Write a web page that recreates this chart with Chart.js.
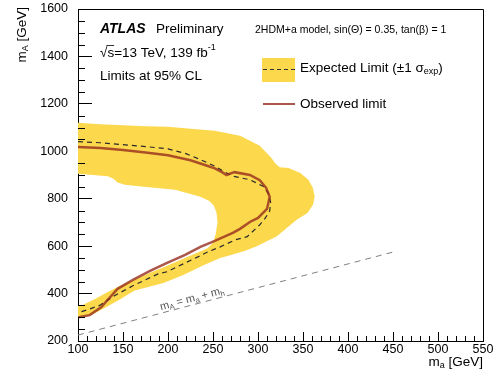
<!DOCTYPE html>
<html>
<head>
<meta charset="utf-8">
<script src="https://cdn.jsdelivr.net/npm/chart.js@4.4.0/dist/chart.umd.min.js"></script>
<style>
  html, body { margin: 0; padding: 0; background: #fff; }
  #wrap { width: 497px; height: 374px; }
</style>
</head>
<body>
<div id="wrap"><canvas id="limitChart" width="497" height="374"></canvas></div>
<script>
// axis ticks (GeV)
const xTickLabels = [100, 150, 200, 250, 300, 350, 400, 450, 500, 550];
const yTickLabels = [200, 400, 600, 800, 1000, 1200, 1400, 1600];

// +-1 sigma band, outer edge (top arm -> tip -> lower arm)
const bandOuterMa = [100, 125, 150, 175, 200, 225, 252, 280, 302, 315, 319, 324, 334, 347, 356, 361, 363, 361, 355, 343, 321, 298, 285, 272, 258, 240, 217, 195, 180, 163, 145, 130, 115, 100];
const bandOuterMA = [1120, 1114, 1110, 1106, 1103, 1095, 1087, 1066, 1023, 972, 950, 933, 929, 908, 880, 845, 808, 774, 740, 711, 642, 598, 580, 565, 550, 520, 478, 445, 430, 413, 372, 340, 310, 297];
// inner edge (lower arm -> inner tip -> top arm)
const bandInnerMa = [100, 105, 119, 133, 144, 169, 197, 222, 244, 250, 253, 255, 254, 251, 246, 236, 208, 170, 152, 144, 139, 133, 100];
const bandInnerMA = [348, 352, 377, 407, 428, 470, 514, 555, 591, 614, 650, 700, 740, 770, 790, 808, 838, 852, 859, 868, 885, 895, 905];

// expected limit
const expMa = [100, 125, 150, 175, 200, 220, 236, 252, 262, 272, 291, 306, 312, 314, 313, 308, 302, 288, 275, 258, 245, 235, 219, 199, 189, 161, 142, 124, 113, 104, 100];
const expMA = [1041, 1036, 1028, 1020, 1010, 990, 965, 937, 915, 895, 880, 852, 820, 785, 748, 718, 690, 640, 627, 597, 577, 558, 529, 492, 483, 433, 394, 350, 335, 324, 321];

// observed limit
const obsMa = [100, 125, 150, 175, 200, 225, 241, 252, 260, 265, 269, 274, 291, 302, 309, 313, 310, 300, 291, 280, 272, 252, 236, 219, 199, 180, 161, 144, 137, 133, 126, 113, 102, 100];
const obsMA = [1018, 1014, 1005, 995, 983, 962, 942, 928, 912, 900, 906, 912, 900, 878, 846, 808, 757, 719, 702, 673, 656, 622, 597, 563, 529, 496, 458, 420, 390, 374, 343, 309, 301, 300];

// kinematic line m_A = m_a + m_h
const diagMa = [100, 450];
const diagMA = [225, 575];

const font = "'Liberation Sans', Arial, sans-serif";
const bandColor = '#fcd84c';
const obsColor = 'rgba(150,45,30,0.8)';

const zip = (xs, ys) => xs.map((v, i) => ({x: v, y: ys[i]}));

const bandPoints = zip(bandOuterMa, bandOuterMA).concat(zip(bandInnerMa, bandInnerMA));

// text made of pieces: [text, size, dy, style]
function drawPieces(ctx, pieces, x, y, color) {
  ctx.fillStyle = color;
  ctx.textBaseline = 'middle';
  ctx.textAlign = 'left';
  let cx = x;
  pieces.forEach(p => {
    ctx.font = (p[3] || '') + ' ' + p[1] + 'px ' + font;
    ctx.fillText(p[0], cx, y + p[2]);
    cx += ctx.measureText(p[0]).width;
  });
  return cx - x;
}
function piecesWidth(ctx, pieces) {
  let w = 0;
  pieces.forEach(p => {
    ctx.font = (p[3] || '') + ' ' + p[1] + 'px ' + font;
    w += ctx.measureText(p[0]).width;
  });
  return w;
}

const decor = {
  id: 'decor',
  afterDraw(chart) {
    const {ctx, chartArea: a, scales: {x, y}} = chart;
    ctx.save();

    // minor ticks, inside
    ctx.strokeStyle = '#000';
    ctx.lineWidth = 1;
    ctx.beginPath();
    for (let v = 110; v < 550; v += 10) {
      if (v % 50 === 0) continue;
      const px = Math.round(x.getPixelForValue(v)) + 0.5;
      ctx.moveTo(px, a.bottom);
      ctx.lineTo(px, a.bottom - 5);
    }
    for (let v = 250; v < 1600; v += 50) {
      if (v % 200 === 0) continue;
      const py = Math.round(y.getPixelForValue(v)) + 0.5;
      ctx.moveTo(a.left, py);
      ctx.lineTo(a.left + 7, py);
    }
    ctx.stroke();

    // frame top + right
    ctx.beginPath();
    ctx.moveTo(a.left, Math.round(a.top) + 0.5);
    ctx.lineTo(Math.round(a.right) + 0.5, Math.round(a.top) + 0.5);
    ctx.lineTo(Math.round(a.right) + 0.5, a.bottom);
    ctx.stroke();

    // ATLAS label block
    ctx.fillStyle = '#000';
    ctx.textBaseline = 'middle';
    ctx.font = 'italic bold 14px ' + font;
    ctx.fillText('ATLAS', 100, 29);
    ctx.font = '13.5px ' + font;
    ctx.fillText('Preliminary', 156, 29);

    drawPieces(ctx, [['\u221As=13 TeV, 139 fb', 13.5, 0], ['-1', 9, -5]], 100, 53, '#000');
    ctx.font = '13.5px ' + font;
    const rw = ctx.measureText('\u221A').width;
    const sw = ctx.measureText('s').width;
    ctx.beginPath();
    ctx.lineWidth = 0.8;
    ctx.moveTo(100 + rw - 1, 45.5);
    ctx.lineTo(100 + rw + sw, 45.5);
    ctx.stroke();

    ctx.font = '13.5px ' + font;
    ctx.fillText('Limits at 95% CL', 100, 76.5);

    ctx.font = '10.5px ' + font;
    ctx.fillText('2HDM+a model, sin(\u0398) = 0.35, tan(\u03B2) = 1', 255, 30);

    // legend
    ctx.fillStyle = bandColor;
    ctx.fillRect(262, 58, 33, 24);
    ctx.strokeStyle = '#333';
    ctx.lineWidth = 1.2;
    ctx.setLineDash([4, 3]);
    ctx.beginPath();
    ctx.moveTo(263, 69.5);
    ctx.lineTo(295, 69.5);
    ctx.stroke();
    ctx.setLineDash([]);
    drawPieces(ctx, [['Expected Limit (\u00B11 \u03C3', 13.5, 0], ['exp', 9, 4], [')', 13.5, 0]], 300, 68, '#000');

    ctx.strokeStyle = obsColor;
    ctx.lineWidth = 2;
    ctx.beginPath();
    ctx.moveTo(263, 104);
    ctx.lineTo(295, 104);
    ctx.stroke();
    drawPieces(ctx, [['Observed limit', 13.5, 0]], 300, 104, '#000');

    // axis titles
    const xt = [['m', 13.5, 0], ['a', 9, 4], [' [GeV]', 13.5, 0]];
    drawPieces(ctx, xt, a.right - piecesWidth(ctx, xt), 362, '#000');

    const yt = [['m', 13.5, 0], ['A', 9, 4], [' [GeV]', 13.5, 0]];
    const yw = piecesWidth(ctx, yt);
    ctx.save();
    ctx.translate(22, 7 + yw);
    ctx.rotate(-Math.PI / 2);
    drawPieces(ctx, yt, 0, 0, '#000');
    ctx.restore();

    // label along the kinematic line
    const x0 = x.getPixelForValue(diagMa[0]), y0 = y.getPixelForValue(diagMA[0]);
    const x1 = x.getPixelForValue(diagMa[1]), y1 = y.getPixelForValue(diagMA[1]);
    const ang = Math.atan2(y1 - y0, x1 - x0);
    const lx = x.getPixelForValue(193), ly = y.getPixelForValue(193 + 125);
    ctx.save();
    ctx.translate(lx, ly);
    ctx.rotate(ang);
    drawPieces(ctx, [['m', 11, -6], ['A', 7.5, -3], [' = m', 11, -6], ['a', 7.5, -3], [' + m', 11, -6], ['h', 7.5, -3]], 0, 0, '#555');
    ctx.restore();

    ctx.restore();
  }
};

new Chart(document.getElementById('limitChart'), {
  type: 'scatter',
  data: {
    datasets: [
      {
        label: 'Observed limit',
        data: zip(obsMa, obsMA),
        showLine: true,
        borderColor: obsColor,
        borderWidth: 2.5,
        pointRadius: 0,
        fill: false
      },
      {
        label: 'Expected Limit',
        data: zip(expMa, expMA),
        showLine: true,
        borderColor: '#2a2a2a',
        borderWidth: 1.2,
        borderDash: [5, 4],
        pointRadius: 0,
        fill: false
      },
      {
        label: 'mA = ma + mh',
        data: zip(diagMa, diagMA),
        showLine: true,
        borderColor: '#808080',
        borderWidth: 1,
        borderDash: [6, 5],
        pointRadius: 0,
        fill: false
      },
      {
        label: '+-1 sigma',
        data: bandPoints,
        showLine: true,
        borderColor: 'transparent',
        borderWidth: 0,
        backgroundColor: bandColor,
        pointRadius: 0,
        fill: 'shape'
      }
    ]
  },
  options: {
    responsive: false,
    animation: false,
    devicePixelRatio: 1,
    layout: { padding: { top: 9, right: 14, left: 0, bottom: 0 } },
    plugins: {
      legend: { display: false },
      tooltip: { enabled: false },
      title: { display: false }
    },
    scales: {
      x: {
        type: 'linear',
        min: 100,
        max: 550,
        afterBuildTicks: s => { s.ticks = xTickLabels.map(v => ({value: v})); },
        afterFit: s => { s.height = 33; s.paddingLeft = 0; s.paddingRight = 0; },
        grid: { drawOnChartArea: false, tickLength: -9, color: '#000', tickWidth: 1 },
        border: { color: '#000', width: 1 },
        ticks: {
          autoSkip: false, maxRotation: 0, padding: 10,
          color: '#000', font: { family: font, size: 12.5 },
          callback: v => String(v)
        }
      },
      y: {
        type: 'linear',
        min: 200,
        max: 1600,
        afterBuildTicks: s => { s.ticks = yTickLabels.map(v => ({value: v})); },
        afterFit: s => { s.width = 78; s.paddingTop = 0; s.paddingBottom = 0; },
        grid: { drawOnChartArea: false, tickLength: -14, color: '#000', tickWidth: 1 },
        border: { color: '#000', width: 1 },
        ticks: {
          autoSkip: false, padding: 24,
          color: '#000', font: { family: font, size: 12.5 },
          callback: v => String(v)
        }
      }
    }
  },
  plugins: [decor]
});
</script>
</body>
</html>
